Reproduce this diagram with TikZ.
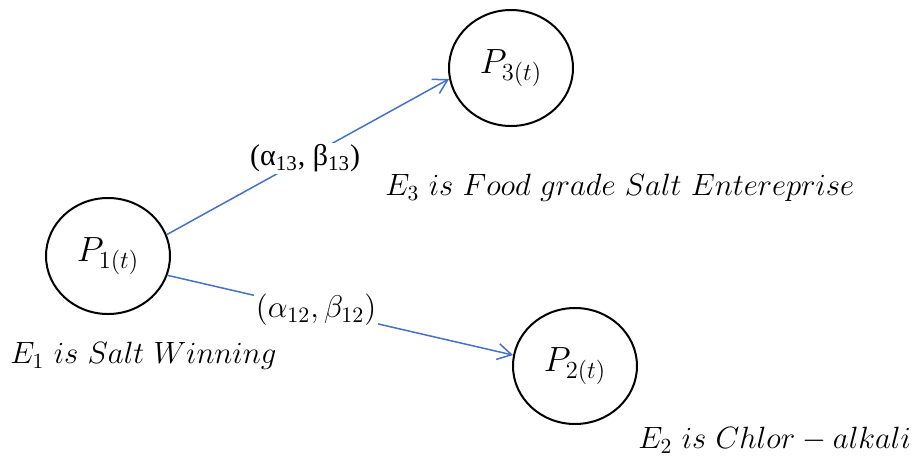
\RequirePackage{fix-cm}
\documentclass[tikz,border=0pt]{standalone}
\usepackage{fontspec}
\usepackage{amsmath}
\usetikzlibrary{arrows.meta, positioning, shapes.geometric}
\newfontfamily\greekfont{Liberation Serif}
\definecolor{linkblue}{RGB}{68,114,196}

\begin{document}
\begin{tikzpicture}[x=0.5pt, y=-0.5pt]

	\tikzset{
		state/.style={
				ellipse, draw=black, line width=1pt, inner sep=0pt, minimum width=62pt, minimum height=58pt, font=\fontsize{17.5}{21}\selectfont
			},
		link/.style={
				draw=linkblue, line width=0.75pt, -{Straight Barb[length=7pt, width=8pt, line width=0.75pt]}
			},
		rate/.style={
				fill=white, inner sep=1pt, font=\fontsize{15.7}{18}\selectfont
			},
		ename/.style={
				anchor=west, inner sep=0pt, font=\fontsize{15.4}{19}\selectfont
			},
	}
	\useasboundingbox (0,0) rectangle (917,462);

	\node[state](p1) at (108,256){$P_{1(t)}$};
	\node[state](p3) at (511,68){$P_{3(t)}$};
	\node[state](p2) at (575,366){$P_{2(t)}$};

	\draw[link] (p1.20)--(p3.190) node[rate, pos=0.49](r13){\greekfont\fontsize{15}{18}\selectfont(α\textsubscript{13}, β\textsubscript{13})};
	\draw[link] (p1.-18)--(p2.170) node[rate, pos=0.43](r12){$(\alpha_{12},\beta_{12})$};

	\node[ename](e1) at (10,356){$E_1\ is\ Salt\ Winning$};
	\node[ename](e3) at (385,188){$E_3\ is\ Food\ grade\ Salt\ Entereprise$};
	\node[ename](e2) at (638,440){$E_2\ is\ Chlor-alkali$};

\end{tikzpicture}
\end{document}
